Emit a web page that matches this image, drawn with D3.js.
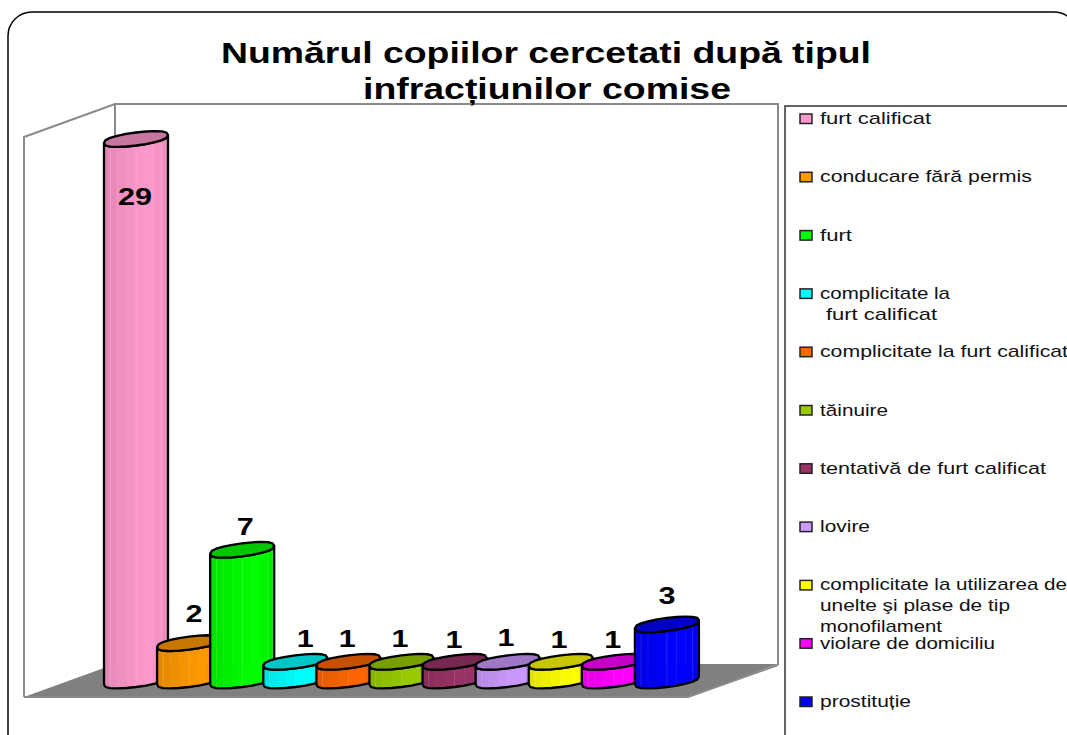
<!DOCTYPE html>
<html><head><meta charset="utf-8">
<script src="https://cdn.jsdelivr.net/npm/d3@7"></script>
<style>html,body{margin:0;padding:0;background:#fff;overflow:hidden}svg{display:block}
text{font-family:"Liberation Sans",Arial,sans-serif}</style></head><body>
<div id="chart"></div>
<script>
const categories = ["furt calificat","conducare fără permis","furt","complicitate la furt calificat","complicitate la furt calificat (2)","tăinuire","tentativă de furt calificat","lovire","complicitate la utilizarea de unelte şi plase de tip monofilament","violare de domiciliu","prostituție"];
const values = [29,2,7,1,1,1,1,1,1,1,3];
const colors = ["#FF99CC","#FF9900","#00FF00","#00FFFF","#FF6600","#99CC00","#993366","#CC99FF","#FFFF00","#FF00FF","#0000FF"];
const legendLines = [["furt calificat"],["conducare fără permis"],["furt"],["complicitate la","furt calificat"],["complicitate la furt calificat"],["tăinuire"],["tentativă de furt calificat"],["lovire"],["complicitate la utilizarea de","unelte şi plase de tip","monofilament"],["violare de domiciliu"],["prostituție"]];
const legendWidths = [[111],[212],[32],[130,111],[248],[68],[226],[50],[247,190,122],[175],[91]];
const legendIndent = [[0],[0],[0],[0,6],[0],[0],[0],[0],[0,0,0],[0],[0]];
const titleLines = ["Numărul copiilor cercetati după tipul","infracțiunilor comise"];

const W=1067,H=735;
const svg=d3.select("#chart").append("svg").attr("width",W).attr("height",H);
svg.append("rect").attr("x",8).attr("y",12).attr("width",1070).attr("height",760).attr("rx",24)
  .attr("fill","#fff").attr("stroke","#000").attr("stroke-width",1.5);

const x=d3.scaleBand().domain(categories).range([104,688]);
const y=d3.scaleLinear().domain([0,29]).range([684.5,143]);
const barW=64,a=barW/2,sk=4,b=6.5;
const line=d3.line();

// walls and floor
const wall={fill:"none",stroke:"#8a8a8a","stroke-width":2};
function poly(pts,attrs){const p=svg.append("path").attr("d",line(pts));Object.entries(attrs).forEach(([k,v])=>p.attr(k,v));return p;}
poly([[24,697],[115,664],[778,664],[688,697]],{fill:"#808080",stroke:"none"});
poly([[24,697],[24,137],[115,104],[778,104],[778,665]],wall);
poly([[115,104],[115,664]],wall);
poly([[24,697],[688,697],[778,665]],wall);

// cylinders: rounded, slightly flattened and skewed sections
function pt(cx,level,t){
  const s=Math.sin(t), f=Math.sign(s)*Math.pow(Math.abs(s),.75);
  return [cx+a*Math.cos(t), level-sk-sk*Math.cos(t)+b*f];
}
const N=10;
const shade=d3.scaleLinear().domain([0,.62,1]).range([.15,0,.12]);
categories.forEach((c,i)=>{
  const cx=x(c)+a, top=y(values[i]), bot=y(0), col=colors[i];
  const ts=d3.range(N+1).map(k=>Math.PI-Math.PI*k/N);
  const xs=ts.map(t=>pt(cx,top,t));
  const xb=ts.map(t=>pt(cx,bot,t));
  for(let k=0;k<N;k++){
    const f=shade((k+.5)/N);
    const fc=d3.interpolateRgb(col,"#000")(f);
    svg.append("path").attr("d",line([xs[k],xs[k+1],xb[k+1],xb[k]])+"Z")
      .attr("fill",fc).attr("stroke",k%3==2?d3.interpolateRgb(col,"#fff")(.2):fc).attr("stroke-width",.6);
  }
  svg.append("path").attr("d",line([...xb,...xs.slice().reverse()])+"Z")
    .attr("fill","none").attr("stroke","#000").attr("stroke-width",2.3).attr("stroke-linejoin","round");
  const cap=d3.range(20).map(k=>pt(cx,top,k/20*2*Math.PI));
  svg.append("path").attr("d",line(cap)+"Z")
    .attr("fill",d3.interpolateRgb(col,"#000")(.22))
    .attr("stroke","#000").attr("stroke-width",2.3).attr("stroke-linejoin","round");
});

// data labels
const labelDx=[-1,5,3,10,-1,-1.5,-.5,-1.7,-1.8,-1,0], labelDy=[-62,25.4,19,18.4,18.4,18.4,18,19.4,18,18,24.3];
categories.forEach((c,i)=>{
  svg.append("text").attr("x",x(c)+a+labelDx[i]).attr("y",y(values[i])-labelDy[i])
    .attr("text-anchor","middle").attr("font-size",24).attr("font-weight","bold").attr("fill","#000")
    .attr("textLength",String(values[i]).length*17).attr("lengthAdjust","spacingAndGlyphs").text(values[i]);
});

// title
const tx=[[221,650,63],[363,368,99]];
titleLines.forEach((t,i)=>svg.append("text").attr("x",tx[i][0]).attr("y",tx[i][2])
  .attr("font-size",30).attr("font-weight","bold").attr("textLength",tx[i][1]).attr("lengthAdjust","spacingAndGlyphs").text(t));

// legend
svg.append("path").attr("d",line([[1068,106],[785,106],[785,736]])).attr("fill","none").attr("stroke","#333").attr("stroke-width",1.5);
const ly=d3.scalePoint().domain(categories).range([124,707]);
categories.forEach((c,i)=>{
  const base=ly(c);
  svg.append("rect").attr("x",800).attr("y",base-10).attr("width",12).attr("height",9.5)
    .attr("fill",colors[i]).attr("stroke","#222").attr("stroke-width",1.5);
  legendLines[i].forEach((s,j)=>{
    svg.append("text").attr("x",820+legendIndent[i][j]).attr("y",base+j*21).attr("font-size",17)
      .attr("textLength",legendWidths[i][j]).attr("lengthAdjust","spacingAndGlyphs").attr("fill","#111").text(s);
  });
});
</script></body></html>
